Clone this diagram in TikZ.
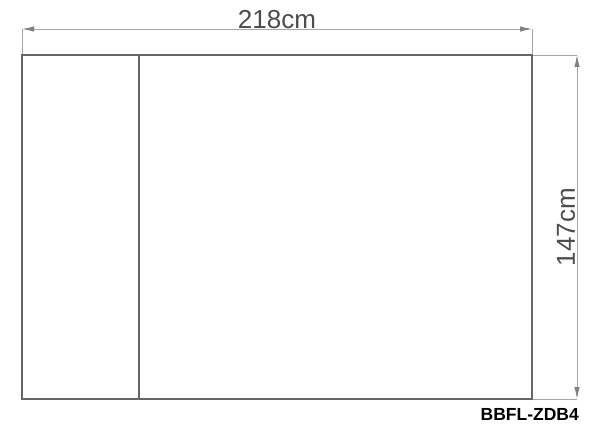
\documentclass[tikz,border=0pt]{standalone}
\usepackage{fontspec}
\setmainfont{Liberation Sans}
\usetikzlibrary{arrows.meta}
\begin{document}
\begin{tikzpicture}[x=1pt,y=-1pt,
  outline/.style={draw=black!60, line width=1.1pt},
  dimline/.style={draw=black!35, line width=0.9pt},
  dimarrow/.style={dimline, {Latex[length=12pt,width=5.5pt,color=black!50]}-{Latex[length=12pt,width=5.5pt,color=black!50]}},
  dimtext/.style={text=black!70, font=\fontsize{26}{29}\selectfont, inner sep=0pt},
  codetext/.style={text=black, font=\bfseries\fontsize{17.5}{20}\selectfont, inner sep=0pt}]
\useasboundingbox (0,0) rectangle (600,428);
% corners
\coordinate (tl) at (22,55);
\coordinate (tr) at (532,55);
\coordinate (bl) at (22,399);
\coordinate (br) at (532,399);
\coordinate (dt) at (139,55);
\coordinate (db) at (139,399);
% dimension anchors
\coordinate (htl) at (22,29);
\coordinate (htr) at (532,29);
\coordinate (vt) at (577,55);
\coordinate (vb) at (577,399);
% extension lines
\draw[dimline] (htl) -- (tl);
\draw[dimline] (htr) -- (tr);
\draw[dimline] (tr) -- (vt);
\draw[dimline] (br) -- (vb);
% dimension arrows
\draw[dimarrow] (htl) -- (htr);
\draw[dimarrow] (vt) -- (vb);
% rectangle
\draw[outline] (tl) rectangle (br);
\draw[outline] (dt) -- (db);
% labels
\node[dimtext] (w) at (277,20) {218cm};
\node[dimtext, rotate=90] (h) at (566,227) {147cm};
\node[codetext, anchor=east] (code) at (579,414) {BBFL-ZDB4};
\end{tikzpicture}
\end{document}
